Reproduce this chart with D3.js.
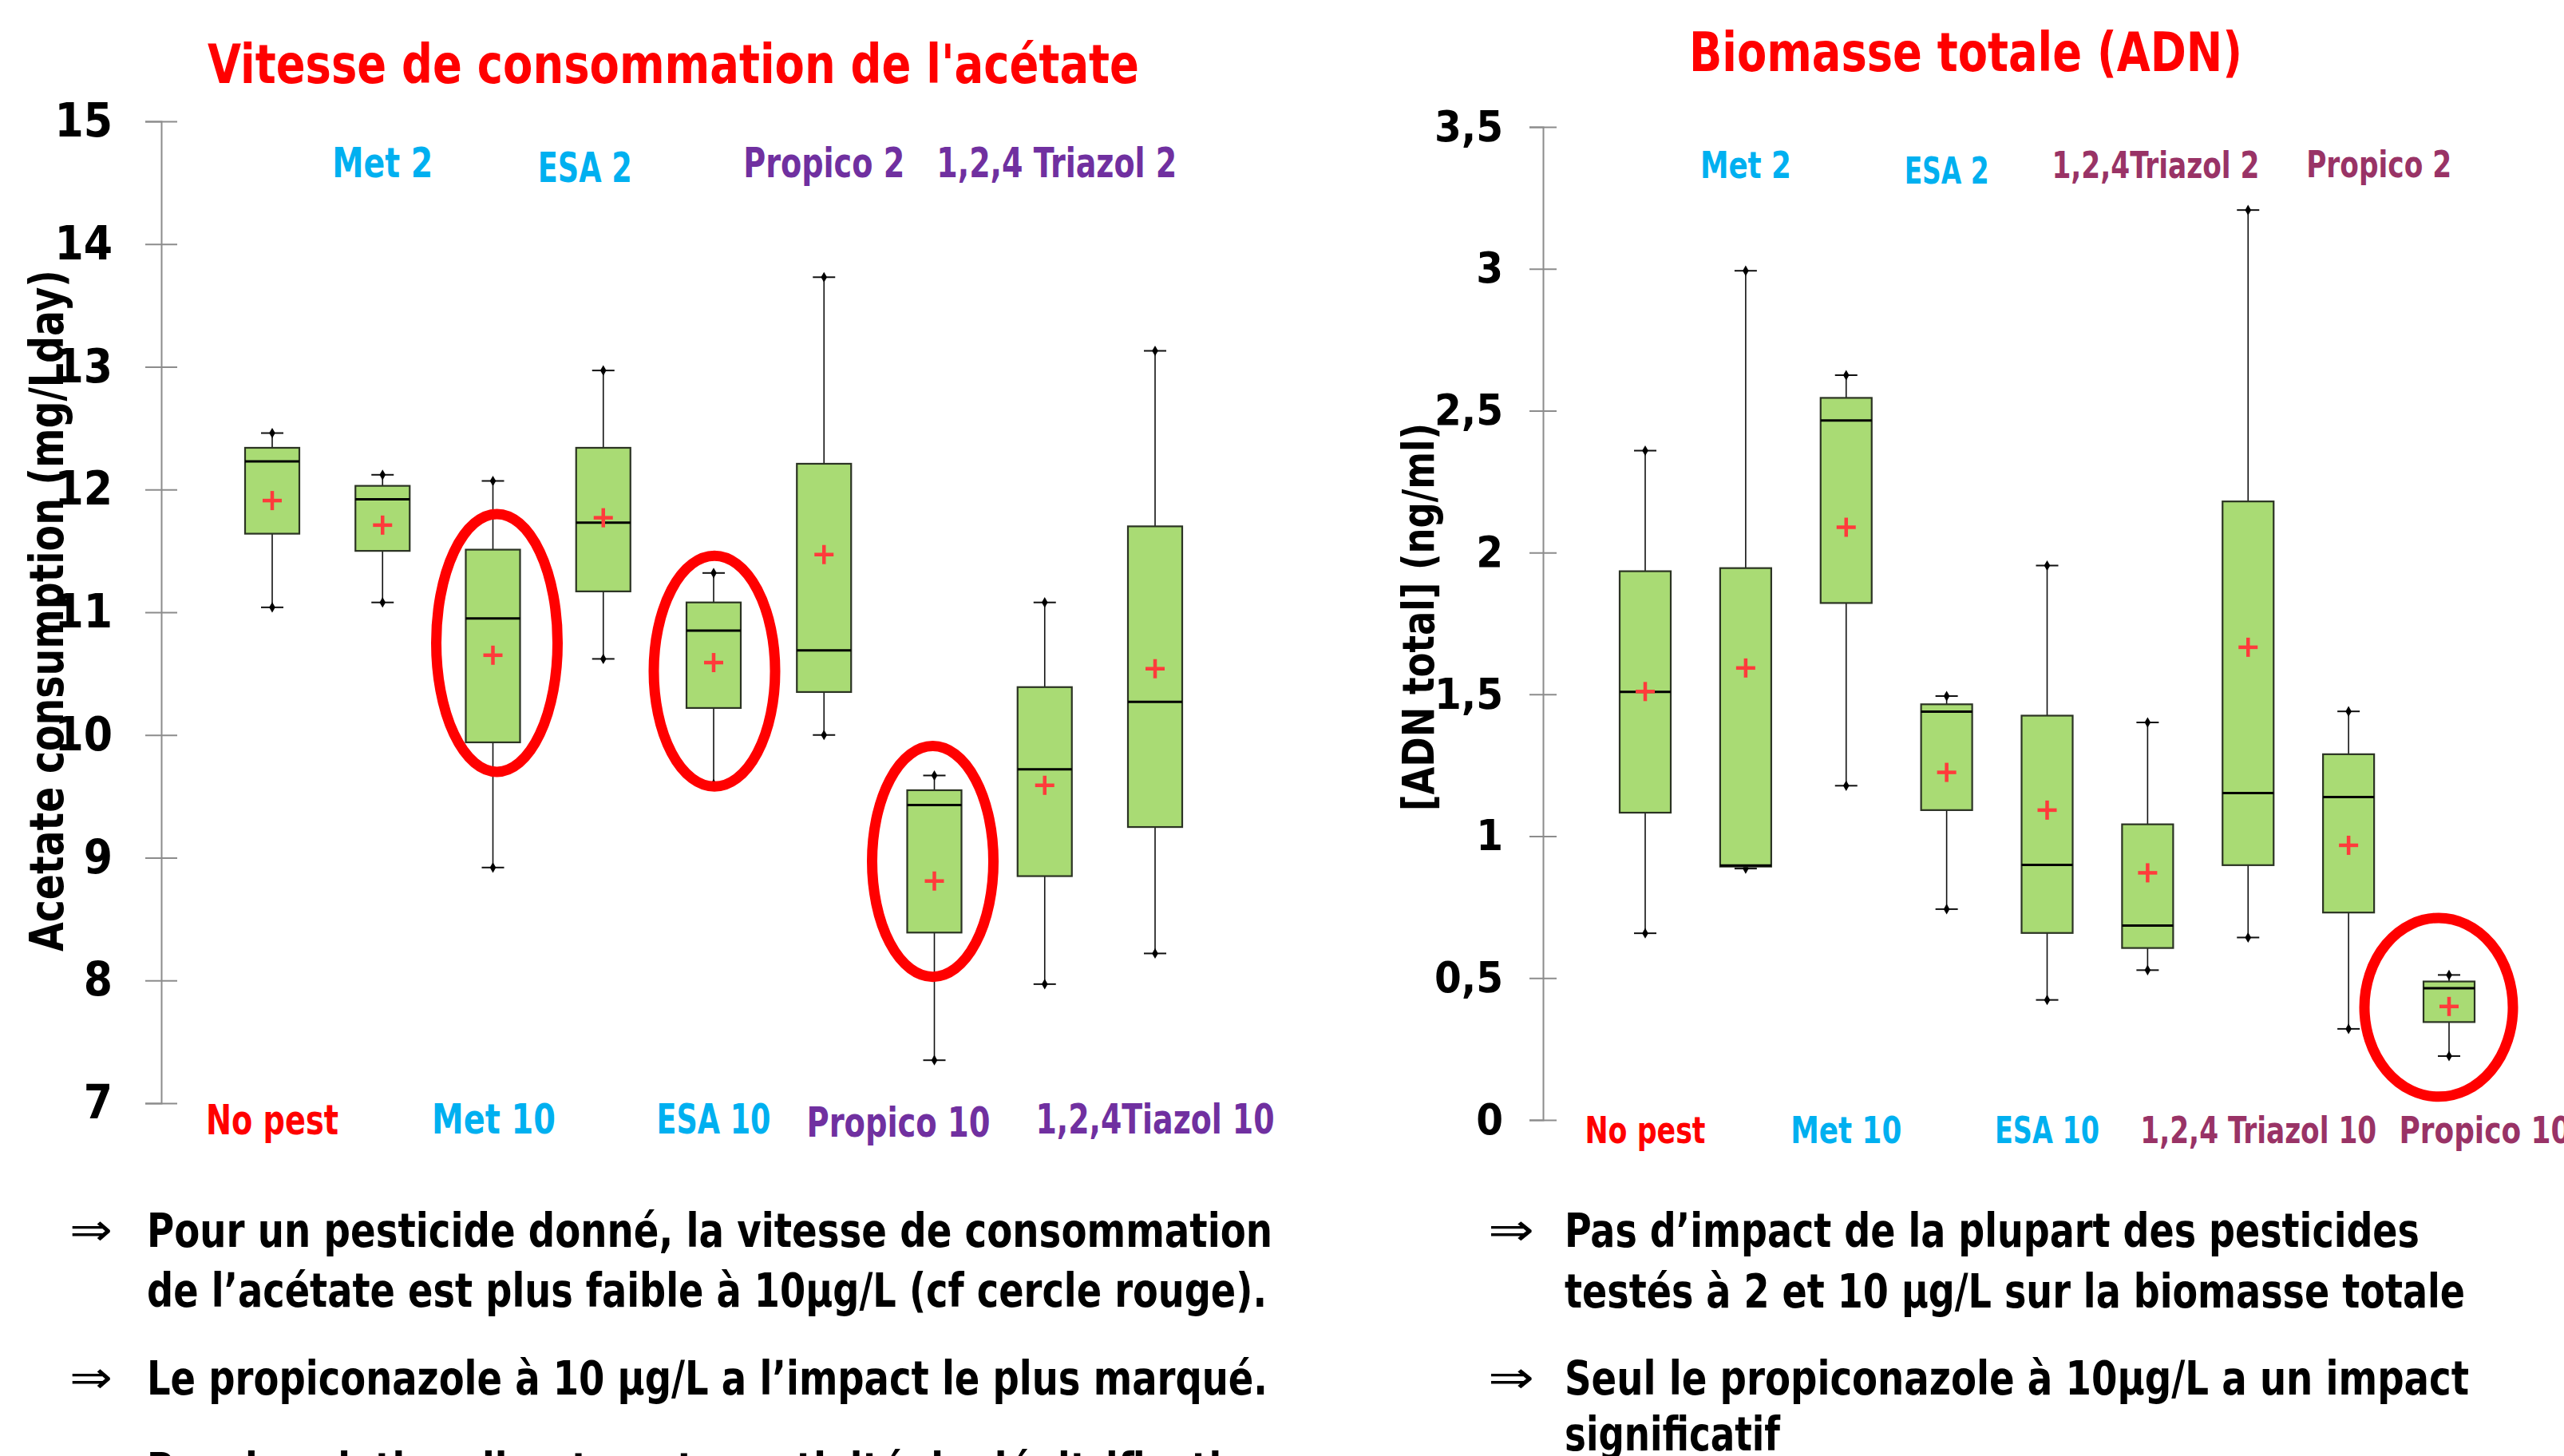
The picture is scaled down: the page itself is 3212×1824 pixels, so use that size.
<!DOCTYPE html>
<html>
<head>
<meta charset="utf-8">
<title>Vitesse de consommation de l'acétate / Biomasse totale (ADN)</title>
<script src="https://d3js.org/d3.v7.min.js"></script>
<style>
  body { margin: 0; background: #fff; }
  .lbl { font-family: 'Liberation Sans Narrow', 'DejaVu Sans Condensed', 'Arial Narrow', sans-serif; font-weight: bold; }
  .ylab { font-family: 'DejaVu Sans', Verdana, sans-serif; font-weight: bold; }
  .arrow { font-family: 'DejaVu Sans', sans-serif; }
</style>
</head>
<body>
<svg id="chart" width="3212" height="1824"></svg>
<script>
// ---------- left chart : acetate consumption (mg/L.day) ----------
var acetCats   = ["No pest", "Met 2", "Met 10", "ESA 2", "ESA 10", "Propico 2", "Propico 10", "Triazol 2", "Triazol 10"];
var acetMin    = [11.04, 11.08, 8.92, 10.62, 9.60, 10.00, 7.35, 7.97, 8.22];
var acetQ1     = [11.64, 11.50, 9.94, 11.17, 10.22, 10.35, 8.39, 8.85, 9.25];
var acetMedian = [12.23, 11.92, 10.95, 11.73, 10.85, 10.69, 9.43, 9.72, 10.27];
var acetQ3     = [12.34, 12.03, 11.51, 12.34, 11.08, 12.21, 9.55, 10.39, 11.70];
var acetMax    = [12.46, 12.12, 12.07, 12.97, 11.32, 13.73, 9.67, 11.08, 13.13];
var acetMean   = [11.91, 11.71, 10.65, 11.77, 10.59, 11.47, 8.81, 9.59, 10.54];
var acetTicks  = [7, 8, 9, 10, 11, 12, 13, 14, 15];

// group names written above / under the boxes
var acetTopCats    = ["Met 2", "ESA 2", "Propico 2", "Triazol 2"];
var acetTopText    = ["Met 2", "ESA 2", "Propico 2", "1,2,4 Triazol 2"];
var acetBottomCats = ["No pest", "Met 10", "ESA 10", "Propico 10", "Triazol 10"];
var acetBottomText = ["No pest", "Met 10", "ESA 10", "Propico 10", "1,2,4Tiazol 10"];

// groups circled in red (upper / lower value of the circle)
var acetCircled      = ["Met 10", "ESA 10", "Propico 10"];
var acetCircleTop    = [11.80, 11.46, 9.91];
var acetCircleBottom = [9.70, 9.58, 8.03];

// ---------- right chart : total biomass [ADN total] (ng/ml) ----------
var adnCats   = ["No pest", "Met 2", "Met 10", "ESA 2", "ESA 10", "Triazol 2", "Triazol 10", "Propico 2", "Propico 10"];
var adnMin    = [0.658, 0.886, 1.178, 0.743, 0.423, 0.528, 0.643, 0.321, 0.225];
var adnQ1     = [1.083, 0.893, 1.822, 1.092, 0.659, 0.606, 0.898, 0.731, 0.345];
var adnMedian = [1.509, 0.897, 2.465, 1.439, 0.899, 0.685, 1.152, 1.138, 0.464];
var adnQ3     = [1.934, 1.945, 2.545, 1.465, 1.425, 1.042, 2.180, 1.289, 0.488];
var adnMax    = [2.359, 2.993, 2.625, 1.494, 1.954, 1.401, 3.207, 1.440, 0.511];
var adnMean   = [1.510, 1.593, 2.089, 1.225, 1.092, 0.871, 1.666, 0.968, 0.400];
var adnTicks  = [0, 0.5, 1, 1.5, 2, 2.5, 3, 3.5];

var adnTopCats    = ["Met 2", "ESA 2", "Triazol 2", "Propico 2"];
var adnTopText    = ["Met 2", "ESA 2", "1,2,4Triazol 2", "Propico 2"];
var adnBottomCats = ["No pest", "Met 10", "ESA 10", "Triazol 10", "Propico 10"];
var adnBottomText = ["No pest", "Met 10", "ESA 10", "1,2,4 Triazol 10", "Propico 10"];

var adnCircled      = ["Propico 10"];
var adnCircleTop    = [0.712];
var adnCircleBottom = [0.082];

// ---------- comments under the charts ----------
var leftNotes  = ["Pour un pesticide donné, la vitesse de consommation",
                  "de l’acétate est  plus faible à 10µg/L (cf cercle rouge).",
                  "Le propiconazole à 10 µg/L a l’impact le plus marqué.",
                  "Pas de relation directe entre activité de dénitrification"];
var rightNotes = ["Pas d’impact de la plupart des pesticides",
                  "testés à 2 et 10 µg/L sur la biomasse totale",
                  "Seul le propiconazole à 10µg/L a un impact",
                  "significatif"];

// ---------- styles ----------
var labelColor = {
    "No pest": "#ff0000",
    "Met": "#00b0f0", "ESA": "#00b0f0",
    "leftOther": "#7030a0", "rightOther": "#993366"
};
function colorFor(txt, side) {
    if (txt === "No pest") return labelColor["No pest"];
    if (txt.indexOf("Met") === 0 || txt.indexOf("ESA") === 0) return labelColor.Met;
    return side === "left" ? labelColor.leftOther : labelColor.rightOther;
}

var svg = d3.select("#chart");
svg.append("rect").attr("width", 3212).attr("height", 1824).attr("fill", "#fff");

// text helper: start x, baseline y, forced width
function putText(txt, x, y, size, color, width, cls) {
    var t = svg.append("text")
        .attr("class", cls || "lbl")
        .attr("x", x).attr("y", y)
        .attr("font-size", size)
        .attr("fill", color)
        .text(txt);
    if (width) t.attr("textLength", width).attr("lengthAdjust", "spacingAndGlyphs");
    return t;
}

function drawPanel(p) {
    var x = d3.scalePoint().domain(p.cats).range(p.xRange);
    var y = d3.scaleLinear().domain(p.domain).range(p.yRange);

    // axis with cross ticks
    var axis = d3.axisLeft(y).tickValues(p.ticks).tickSizeOuter(0).tickSize(p.tick)
        .tickFormat(p.fmt);
    var ga = svg.append("g").attr("transform", "translate(" + p.axisX + ",0)").call(axis);
    ga.select(".domain").attr("stroke", "#8c8c8c").attr("stroke-width", 2);
    ga.selectAll(".tick line").attr("x1", p.tick).attr("x2", -p.tick)
        .attr("stroke", "#8c8c8c").attr("stroke-width", 2);
    ga.selectAll(".tick text")
        .attr("class", "lbl")
        .attr("x", -p.labelGap)
        .attr("font-size", p.tickFont)
        .attr("fill", "#000");

    var rows = p.cats.map(function(c, i) {
        return {cat: c, min: p.min[i], q1: p.q1[i], med: p.med[i], q3: p.q3[i], max: p.max[i], mean: p.mean[i]};
    });
    var hw = p.boxHalf;
    var g = svg.append("g");
    var box = g.selectAll("g.box").data(rows).enter().append("g").attr("class", "box");

    // whiskers
    box.append("line")
        .attr("x1", d => x(d.cat)).attr("x2", d => x(d.cat))
        .attr("y1", d => y(d.max)).attr("y2", d => y(d.q3))
        .attr("stroke", "#111").attr("stroke-width", 1.6);
    box.append("line")
        .attr("x1", d => x(d.cat)).attr("x2", d => x(d.cat))
        .attr("y1", d => y(d.q1)).attr("y2", d => y(d.min))
        .attr("stroke", "#111").attr("stroke-width", 1.6);

    // whisker caps (short bar + small diamond)
    ["min", "max"].forEach(function(k) {
        box.append("line")
            .attr("x1", d => x(d.cat) - 14).attr("x2", d => x(d.cat) + 14)
            .attr("y1", d => y(d[k])).attr("y2", d => y(d[k]))
            .attr("stroke", "#111").attr("stroke-width", 2);
        box.append("path")
            .attr("d", d3.symbol(d3.symbolDiamond).size(50))
            .attr("transform", d => "translate(" + x(d.cat) + "," + y(d[k]) + ")")
            .attr("fill", "#000");
    });

    // box
    box.append("rect")
        .attr("x", d => x(d.cat) - hw)
        .attr("y", d => y(d.q3))
        .attr("width", 2 * hw)
        .attr("height", d => y(d.q1) - y(d.q3))
        .attr("fill", "#a9db74")
        .attr("stroke", "#2b3323").attr("stroke-width", 2.2);

    // median
    box.append("line")
        .attr("x1", d => x(d.cat) - hw).attr("x2", d => x(d.cat) + hw)
        .attr("y1", d => y(d.med)).attr("y2", d => y(d.med))
        .attr("stroke", "#000").attr("stroke-width", 3);

    // mean (red +)
    box.append("line")
        .attr("x1", d => x(d.cat) - 12).attr("x2", d => x(d.cat) + 12)
        .attr("y1", d => y(d.mean)).attr("y2", d => y(d.mean))
        .attr("stroke", "#ff3b3b").attr("stroke-width", 4.5);
    box.append("line")
        .attr("x1", d => x(d.cat)).attr("x2", d => x(d.cat))
        .attr("y1", d => y(d.mean) - 12).attr("y2", d => y(d.mean) + 12)
        .attr("stroke", "#ff3b3b").attr("stroke-width", 4.5);

    // red circles
    p.circled.forEach(function(c, i) {
        var cy = (y(p.circleTop[i]) + y(p.circleBottom[i])) / 2;
        var ry = (y(p.circleBottom[i]) - y(p.circleTop[i])) / 2;
        svg.append("ellipse")
            .attr("cx", x(c) + p.circleDx[i]).attr("cy", cy)
            .attr("rx", p.circleRx).attr("ry", ry)
            .attr("fill", "none").attr("stroke", "#ff0000").attr("stroke-width", 13);
    });

    // group names
    p.topCats.forEach(function(c, i) {
        var w = p.topW[i];
        putText(p.topText[i], x(c) + p.topDx[i] - w / 2, p.topY[i], p.catFont, colorFor(p.topText[i], p.side), w);
    });
    p.bottomCats.forEach(function(c, i) {
        var w = p.bottomW[i];
        putText(p.bottomText[i], x(c) + p.bottomDx[i] - w / 2, p.bottomY[i], p.catFont, colorFor(p.bottomText[i], p.side), w);
    });

    // y axis title
    svg.append("text")
        .attr("class", "ylab")
        .attr("transform", "translate(" + p.yLabX + "," + p.yLabY + ") rotate(-90)")
        .attr("text-anchor", "middle")
        .attr("font-size", p.yLabFont)
        .attr("textLength", p.yLabW).attr("lengthAdjust", "spacingAndGlyphs")
        .text(p.yLab);

    // chart title
    putText(p.title, p.titleX, p.titleY, 68, "#ff0000", p.titleW);
}

drawPanel({
    side: "left",
    cats: acetCats, min: acetMin, q1: acetQ1, med: acetMedian, q3: acetQ3, max: acetMax, mean: acetMean,
    ticks: acetTicks, domain: [7, 15], yRange: [1382, 152], xRange: [341, 1447],
    fmt: d3.format("d"), axisX: 202, tick: 20, labelGap: 61, tickFont: 58, boxHalf: 34,
    circled: acetCircled, circleTop: acetCircleTop, circleBottom: acetCircleBottom,
    circleDx: [5, 1, -2], circleRx: 76,
    topCats: acetTopCats, topText: acetTopText, topW: [126, 118, 202, 301], topDx: [0, -23, 0, 15],
    topY: [222, 228, 222, 222],
    bottomCats: acetBottomCats, bottomText: acetBottomText, bottomW: [166, 155, 143, 230, 299],
    bottomDx: [0, 1, 0, -45, 0], bottomY: [1421, 1420, 1420, 1424, 1420],
    catFont: 51,
    yLab: "Acetate consumption (mg/Lday)", yLabX: 79, yLabY: 765, yLabFont: 58, yLabW: 854,
    title: "Vitesse de consommation de l'acétate", titleX: 260, titleY: 104, titleW: 1167
});

drawPanel({
    side: "right",
    cats: adnCats, min: adnMin, q1: adnQ1, med: adnMedian, q3: adnQ3, max: adnMax, mean: adnMean,
    ticks: adnTicks, domain: [0, 3.5], yRange: [1403, 159], xRange: [2061, 3068],
    fmt: d => String(d).replace(".", ","), axisX: 1933, tick: 17, labelGap: 50, tickFont: 54, boxHalf: 32,
    circled: adnCircled, circleTop: adnCircleTop, circleBottom: adnCircleBottom,
    circleDx: [-13], circleRx: 93,
    topCats: adnTopCats, topText: adnTopText, topW: [114, 106, 260, 182], topDx: [0, 0, 10, 38],
    topY: [223, 230, 223, 222],
    bottomCats: adnBottomCats, bottomText: adnBottomText, bottomW: [151, 139, 131, 296, 215],
    bottomDx: [0, 0, 0, 13, 45], bottomY: [1432, 1432, 1432, 1432, 1432],
    catFont: 46,
    yLab: "[ADN total] (ng/ml)", yLabX: 1796, yLabY: 773, yLabFont: 56, yLabW: 486,
    title: "Biomasse totale (ADN)", titleX: 2116, titleY: 89, titleW: 693
});

// ---------- notes ----------
var arrow = "\u21D2";
putText(arrow, 87, 1560, 56, "#000", 54, "arrow");
putText(leftNotes[0], 184, 1562, 58, "#000", 1410);
putText(leftNotes[1], 184, 1637, 58, "#000", 1403);
putText(arrow, 87, 1745, 56, "#000", 54, "arrow");
putText(leftNotes[2], 184, 1747, 58, "#000", 1404);
putText(leftNotes[3], 184, 1862, 58, "#000", 1410);

putText(arrow, 1864, 1560, 56, "#000", 58, "arrow");
putText(rightNotes[0], 1960, 1562, 58, "#000", 1071);
putText(rightNotes[1], 1960, 1638, 58, "#000", 1128);
putText(arrow, 1864, 1745, 56, "#000", 58, "arrow");
putText(rightNotes[2], 1960, 1747, 58, "#000", 1133);
putText(rightNotes[3], 1960, 1817, 58, "#000", 270);
</script>
</body>
</html>
